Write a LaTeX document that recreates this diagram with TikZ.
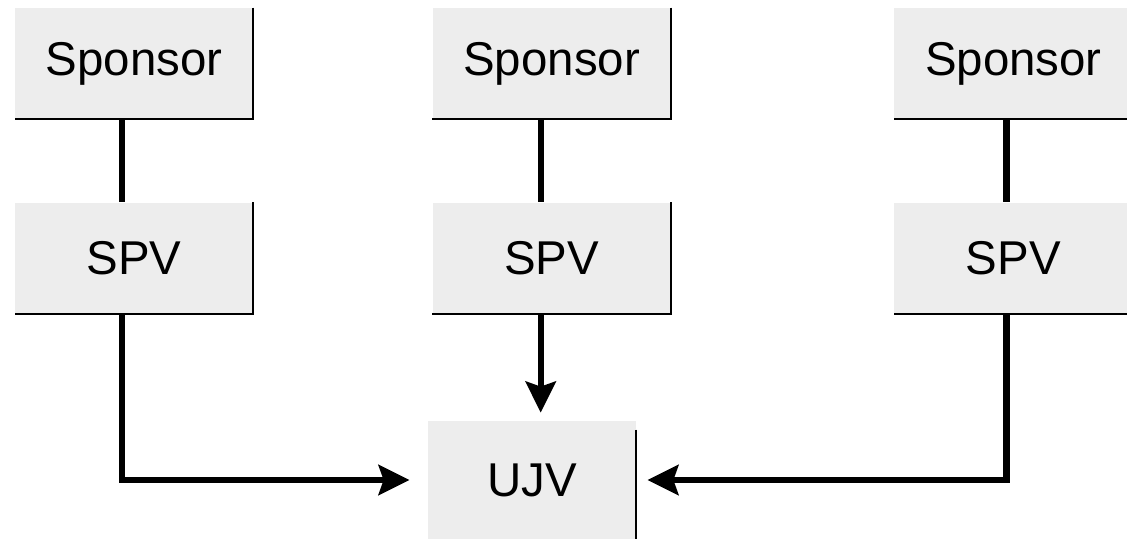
\documentclass[tikz,border=0pt]{standalone}
\usepackage{fontspec}
\setmainfont{Liberation Sans}
\usetikzlibrary{arrows.meta, positioning}
\tikzset{
    entity/.style={fill=gray!14, inner sep=0pt, minimum width=4.76cm, minimum height=2.22cm,
        font=\fontsize{27}{30}\selectfont},
    edge/.style={line width=1.1pt},
    link/.style={line width=3.6pt},
    feed/.style={link, -{Stealth[length=0.62cm, width=0.6cm, inset=0.1cm]}},
}
\begin{document}
\begin{tikzpicture}[node distance=1.66cm and 3.58cm]
    \useasboundingbox (0,0) rectangle (22.54,10.78);

    \node[entity] at (2.68,9.51)          (s1) {Sponsor};
    \node[entity, right=of s1]            (s2) {Sponsor};
    \node[entity, right=4.46cm of s2]     (s3) {Sponsor};
    \node[entity, below=of s1]            (p1) {SPV};
    \node[entity, below=of s2]            (p2) {SPV};
    \node[entity, below=of s3]            (p3) {SPV};
    \node[entity, minimum width=4.16cm, minimum height=2.36cm] at (10.64,1.18) (u) {UJV};

    % box edges (right and bottom only)
    \foreach \b in {s1,p1,s2,p2,s3,p3}
        \draw[edge] (\b.north east) -- (\b.south east) -- (\b.south west);
    \draw[edge] ([yshift=-0.18cm]u.north east) -- (u.south east);

    % sponsor to spv
    \draw[link] ([xshift=-0.24cm]s1.south) -- ([xshift=-0.24cm]p1.north);
    \draw[link] ([xshift=-0.22cm]s2.south) -- ([xshift=-0.22cm]p2.south |- p2.north);
    \draw[link] ([xshift=-0.14cm]s3.south) -- ([xshift=-0.14cm]p3.north);

    % spv to ujv
    \draw[feed, shorten >=0.36cm] ([xshift=-0.24cm]p1.south) |- (u.west);
    \draw[feed, shorten >=0.16cm] ([xshift=-0.22cm]p2.south) -- ([xshift=-0.22cm]p2.south |- u.north);
    \draw[feed, shorten >=0.22cm] ([xshift=-0.14cm]p3.south) |- (u.east);
\end{tikzpicture}
\end{document}
